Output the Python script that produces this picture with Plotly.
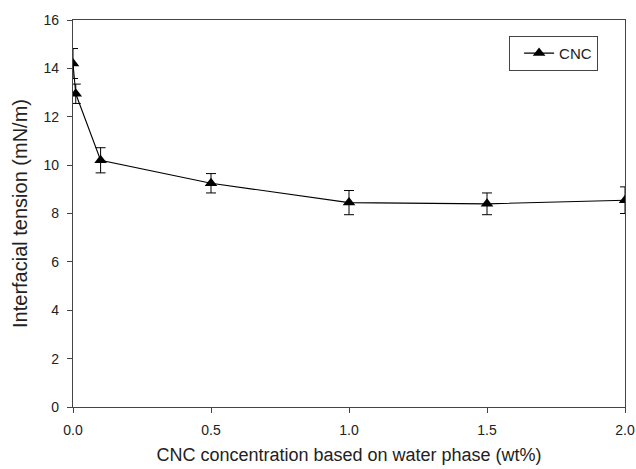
import plotly.graph_objects as go

# CNC concentration (wt%) vs interfacial tension (mN/m)
conc = [0.0, 0.01, 0.1, 0.5, 1.0, 1.5, 2.0]
tension = [14.2, 12.95, 10.2, 9.25, 8.45, 8.4, 8.55]
tension_err = [0.62, 0.4, 0.52, 0.4, 0.5, 0.45, 0.55]

x_ticks = [0.0, 0.5, 1.0, 1.5, 2.0]
y_ticks = [0, 2, 4, 6, 8, 10, 12, 14, 16]

font = "Liberation Sans, Arial, sans-serif"

fig = go.Figure()
fig.add_trace(go.Scatter(
    x=conc, y=tension, name="CNC", mode="lines+markers",
    line=dict(color="black", width=1.1),
    marker=dict(symbol="triangle-up", size=11, color="black"),
    error_y=dict(type="data", array=tension_err, color="black",
                 thickness=1, width=5),
))

axis_common = dict(
    showline=True, linecolor="#444", linewidth=1.3, mirror=True,
    ticks="outside", ticklen=5, tickcolor="#444", showgrid=False,
    zeroline=False, ticklabelstandoff=5, ticklabeloverflow="allow",
    automargin=False,
    tickfont=dict(family=font, size=14, color="#222"),
)

fig.update_layout(
    width=636, height=469,
    margin=dict(l=73, r=11, t=20, b=62),
    paper_bgcolor="white", plot_bgcolor="white",
    font=dict(family=font, color="#222"),
    xaxis=dict(range=[0, 2.0], tickvals=x_ticks, ticktext=[f"{v:.1f}" for v in x_ticks],
               title=dict(text="CNC concentration based on water phase (wt%)",
                          font=dict(size=18), standoff=11),
               **axis_common),
    yaxis=dict(range=[0, 16], tickvals=y_ticks,
               title=dict(text="Interfacial tension (mN/m)", font=dict(size=20), standoff=10),
               **axis_common),
    showlegend=True,
    legend=dict(x=0.79, y=0.959, xanchor="left", yanchor="top",
                bordercolor="#444", borderwidth=1, bgcolor="white",
                font=dict(size=15, family=font), indentation=9,
                entrywidth=68, entrywidthmode="pixels"),
)

fig.write_html("out.html")
